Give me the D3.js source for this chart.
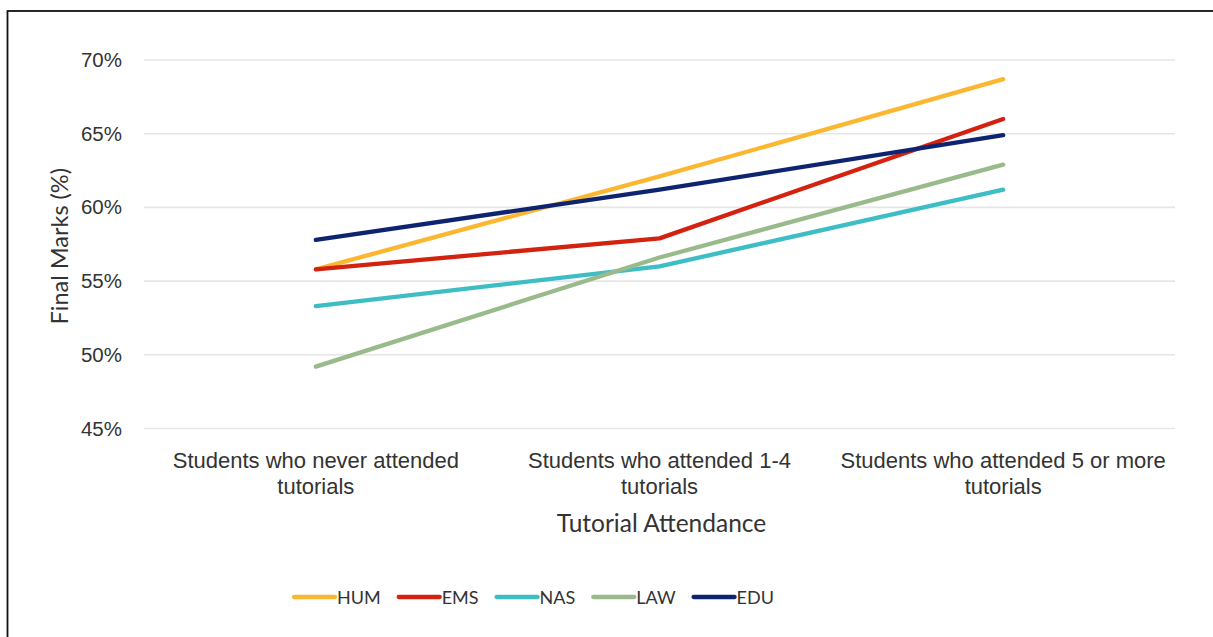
<!DOCTYPE html>
<html>
<head>
<meta charset="utf-8">
<script src="https://cdn.jsdelivr.net/npm/d3@7"></script>
<style>
  html, body { margin: 0; padding: 0; background: #fff; }
  svg { display: block; font-family: "Gill Sans", "Lato", "Noto Sans", sans-serif; }
</style>
</head>
<body>
<svg id="chart" width="1213" height="637"></svg>
<script>
// Attendance groups along the x axis (each label split into two lines)
const categories = [
  ["Students who never attended", "tutorials"],
  ["Students who attended 1-4", "tutorials"],
  ["Students who attended 5 or more", "tutorials"]
];

// Final marks (%) per faculty for each attendance group
const HUM = [55.8, 62.1, 68.7];
const EMS = [55.8, 57.9, 66.0];
const NAS = [53.3, 56.0, 61.2];
const LAW = [49.2, 56.6, 62.9];
const EDU = [57.8, 61.2, 64.9];

const seriesNames = ["HUM", "EMS", "NAS", "LAW", "EDU"];
const seriesColors = ["#FBB72F", "#D3220F", "#3EBEC4", "#99BA8B", "#0E2470"];
const yTicks = [45, 50, 55, 60, 65, 70];

const series = [HUM, EMS, NAS, LAW, EDU].map((values, i) => ({
  name: seriesNames[i], color: seriesColors[i], values
}));

const svg = d3.select("#chart");
const W = 1213, H = 637;
const margin = { left: 144, right: 38, top: 60, bottom: 208 };

// outer frame (top and left edges visible)
svg.append("rect")
  .attr("x", 7.5).attr("y", 11)
  .attr("width", W + 20).attr("height", H + 20)
  .attr("fill", "none").attr("stroke", "#111").attr("stroke-width", 1.8);

const x = d3.scaleBand()
  .domain(d3.range(categories.length))
  .range([margin.left, W - margin.right]);

const y = d3.scaleLinear()
  .domain([45, 70])
  .range([H - margin.bottom - 0.5, margin.top]);

// horizontal gridlines
svg.append("g")
  .selectAll("line")
  .data(yTicks)
  .join("line")
  .attr("x1", margin.left).attr("x2", W - margin.right)
  .attr("y1", d => y(d)).attr("y2", d => y(d))
  .attr("stroke", "#e6e6e6").attr("stroke-width", 1.6);

// y axis labels
const yAxis = d3.axisLeft(y)
  .tickValues(yTicks)
  .tickFormat(d => d + "%")
  .tickSize(0)
  .tickPadding(22);

svg.append("g")
  .attr("transform", `translate(${margin.left},0)`)
  .call(yAxis)
  .call(g => g.select(".domain").remove())
  .call(g => g.selectAll("text")
    .attr("font-size", 20.5)
    .attr("fill", "#333")
    .attr("font-family", null));

// x axis category labels (two lines each)
const xAxis = d3.axisBottom(x).tickSize(0).tickFormat(() => "");
const xg = svg.append("g")
  .attr("transform", `translate(0,${y(45)})`)
  .call(xAxis)
  .call(g => g.select(".domain").remove());

xg.selectAll(".tick").each(function (d) {
  const t = d3.select(this).select("text")
    .attr("font-size", 22)
    .attr("fill", "#333")
    .attr("font-family", null)
    .attr("y", 0)
    .attr("dy", null);
  categories[d].forEach((line, i) => {
    t.append("tspan")
      .attr("x", 0)
      .attr("y", 39 + i * 26)
      .text(line);
  });
});

// axis titles
svg.append("text")
  .attr("x", (margin.left + W - margin.right) / 2 + 2)
  .attr("y", 532)
  .attr("text-anchor", "middle")
  .attr("font-size", 24.5)
  .attr("fill", "#333")
  .text("Tutorial Attendance");

svg.append("text")
  .attr("transform", `translate(68,${(y(45) + y(70)) / 2 + 2}) rotate(-90)`)
  .attr("text-anchor", "middle")
  .attr("font-size", 23.5)
  .attr("fill", "#333")
  .text("Final Marks (%)");

// data lines
const line = d3.line()
  .x((d, i) => x(i) + x.bandwidth() / 2)
  .y(d => y(d));

svg.append("g")
  .selectAll("path")
  .data(series)
  .join("path")
  .attr("d", d => line(d.values))
  .attr("fill", "none")
  .attr("stroke", d => d.color)
  .attr("stroke-width", 4.3)
  .attr("stroke-linecap", "round")
  .attr("stroke-linejoin", "round");

// legend
const legend = svg.append("g").attr("transform", "translate(294,597)");
let lx = 0;
series.forEach(s => {
  const item = legend.append("g").attr("transform", `translate(${lx},0)`);
  item.append("line")
    .attr("x1", 0).attr("x2", 41)
    .attr("y1", 0).attr("y2", 0)
    .attr("stroke", s.color)
    .attr("stroke-width", 4.3)
    .attr("stroke-linecap", "round");
  const txt = item.append("text")
    .attr("x", 43).attr("y", 6.5)
    .attr("font-size", 18)
    .attr("fill", "#333")
    .text(s.name);
  lx += 43 + txt.node().getComputedTextLength() + 18;
});
</script>
</body>
</html>
